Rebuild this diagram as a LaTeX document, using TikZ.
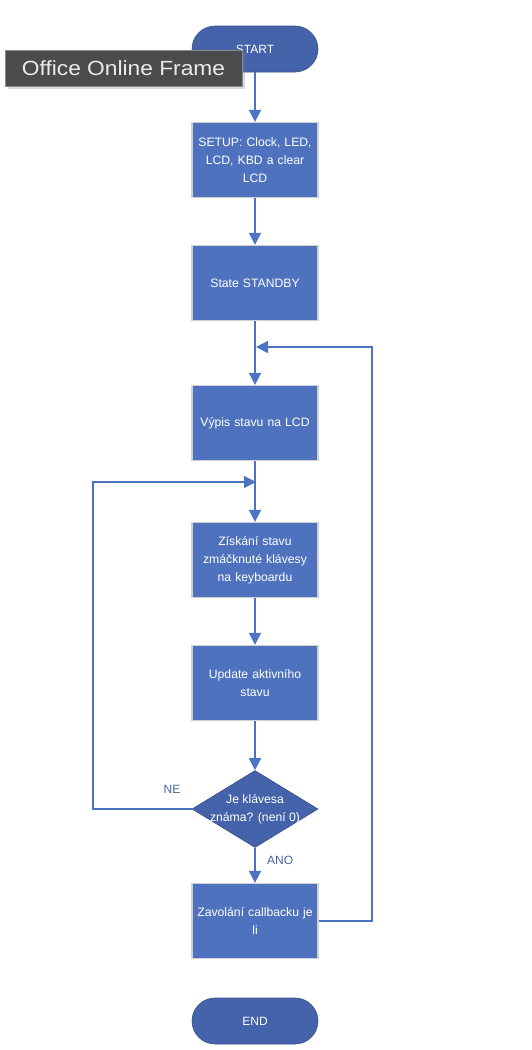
\documentclass[tikz,border=0pt]{standalone}
\usepackage{fontspec}
\setmainfont{Liberation Sans}
\newfontfamily\tipfont{Liberation Sans}[FakeStretch=1.11]
\usetikzlibrary{arrows.meta,shapes.geometric,shadows}
\definecolor{boxblue}{HTML}{4E72BE}
\definecolor{termblue}{HTML}{4563AA}
\definecolor{linkblue}{HTML}{4D73C4}
\definecolor{framegray}{HTML}{4B4A4C}
\tikzset{
	process/.style={draw=black!18,line width=1.2,fill=boxblue,minimum width=126,minimum height=75,text width=120,inner xsep=2.5,align=center,text=white,font=\fontsize{12.2}{18}\selectfont},
	terminal/.style={draw=termblue!80!black,line width=0.6,fill=termblue,rounded corners=23,minimum width=126,minimum height=46,text=white,font=\fontsize{12}{14}\selectfont},
	decision/.style={diamond,draw=termblue!80!black,line width=0.6,fill=termblue,minimum width=126,minimum height=77,inner sep=0},
	link/.style={draw=linkblue,line width=1.5,-{Triangle[length=12pt,width=12pt]}},
	flowlabel/.style={text=termblue,font=\fontsize{12}{14}\selectfont}
}
\begin{document}
\begin{tikzpicture}[x=1pt,y=-1pt]
			\useasboundingbox (0,0) rectangle (532,1050);
			\node[terminal] (start) at (255,49) {START};
			\node[process] (setup) at (255,160) {SETUP: Clock, LED,\\LCD, KBD a clear\\LCD};
			\node[process] (standby) at (255,283) {State STANDBY};
			\node[process] (vypis) at (255,423) {Výpis stavu na LCD};
			\node[process] (ziskani) at (255,560) {Získání stavu\\zmáčknuté klávesy\\na keyboardu};
			\node[process] (update) at (255,683) {Update aktivního\\stavu};
			\node[decision,label={[text=white,align=center,font=\fontsize{12.2}{18}\selectfont]center:Je klávesa\\známa? (není 0)}] (znama) at (255,809) {};
			\node[process] (callback) at (255,921) {Zavolání callbacku je\\li};
			\node[terminal] (end) at (255,1021) {END};
			\coordinate (mergeA) at (256,482);
			\coordinate (nebend) at (93,482);
			\coordinate (mergeB) at (256,347);
			\coordinate (anobend) at (372,347);
			% main flow
			\draw[link] (start) -- (setup);
			\draw[link] (setup) -- (standby);
			\draw[link] (standby) -- (vypis);
			\draw[link] (vypis) -- (ziskani);
			\draw[link] (ziskani) -- (update);
			\draw[link] (update) -- (znama);
			\draw[link] (znama) -- node[flowlabel,right=8pt,pos=0.35] {ANO} (callback);
			% loops back
			\draw[link] (znama.west) -| (nebend) -- (mergeA);
			\node[flowlabel] (ne) at (172,789) {NE};
			\draw[link] (callback.east) -| (anobend) -- (mergeB);
			% overlay tooltip
			\node[fill=framegray,draw=black!45,line width=1,drop shadow={opacity=0.3},minimum width=237,minimum height=36,text=white!92!black,font=\tipfont\fontsize{20.5}{22}\selectfont] (frame) at (123.5,68) {Office Online Frame};
		\end{tikzpicture}
\end{document}
